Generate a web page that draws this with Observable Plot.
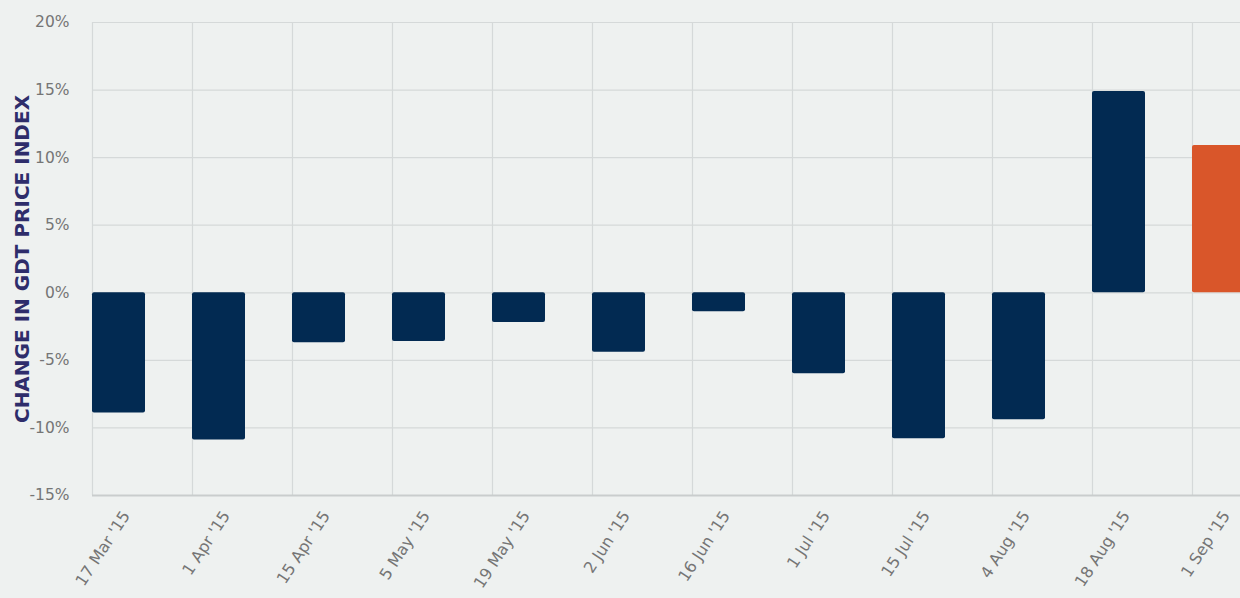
<!DOCTYPE html>
<html>
<head>
<meta charset="utf-8">
<script src="https://cdn.jsdelivr.net/npm/d3@7"></script>
<script src="https://cdn.jsdelivr.net/npm/@observablehq/plot@0.6"></script>
<style>
  html, body { margin: 0; padding: 0; background: #eef1f0; }
  #wrap { width: 1240px; height: 598px; overflow: hidden; }
</style>
</head>
<body>
<div id="wrap"></div>
<script>
const dates = ["17 Mar '15", "1 Apr '15", "15 Apr '15", "5 May '15", "19 May '15", "2 Jun '15",
               "16 Jun '15", "1 Jul '15", "15 Jul '15", "4 Aug '15", "18 Aug '15", "1 Sep '15"];
const changes = [-8.9, -10.9, -3.7, -3.6, -2.2, -4.4, -1.4, -6.0, -10.8, -9.4, 14.9, 10.9];
const highlight = ["1 Sep '15"];
const yTicks = [-15, -10, -5, 0, 5, 10, 15, 20];

const data = dates.map((d, i) => ({date: d, value: changes[i], hi: highlight.includes(d)}));

const font = "'DejaVu Sans', sans-serif";
const chart = Plot.plot({
  width: 1292,
  height: 598,
  marginLeft: 92,
  marginRight: 0,
  marginTop: 22,
  marginBottom: 103,
  style: {background: "#eef1f0", maxWidth: "none", fontFamily: font, overflow: "visible"},
  x: {type: "band", domain: dates, padding: 0, align: 0, axis: null},
  y: {domain: [-15, 20], ticks: yTicks, label: null},
  marks: [
    Plot.gridY(yTicks, {stroke: "#d5d9d9", strokeOpacity: 1, strokeWidth: 1.2}),
    Plot.ruleX(dates, {x: d => d, dx: -50, stroke: "#d5d9d9", strokeWidth: 1.2}),
    Plot.ruleY([-15], {stroke: "#c9cdcd", strokeWidth: 2}),
    Plot.barY(data, {x: "date", y: "value", insetRight: 47, insetLeft: 0, rx: 2,
      fill: d => d.hi ? "#d9562a" : "#022a52"}),
    Plot.axisY(yTicks, {tickSize: 0, tickPadding: 23, fontSize: 15.5, fill: "#757575",
      tickFormat: d => d + "%", label: null}),
    Plot.text(dates, {x: d => d, frameAnchor: "bottom", dy: 20, dx: -12, rotate: -57,
      textAnchor: "end", fontSize: 16, fill: "#757575", letterSpacing: 0.6}),
    Plot.text(["CHANGE IN GDT PRICE INDEX"], {frameAnchor: "left", dx: -70, rotate: -90,
      fontSize: 20, fontWeight: "bold", fill: "#2e2d6b", textAnchor: "middle"})
  ]
});
document.getElementById("wrap").appendChild(chart);
</script>
</body>
</html>
